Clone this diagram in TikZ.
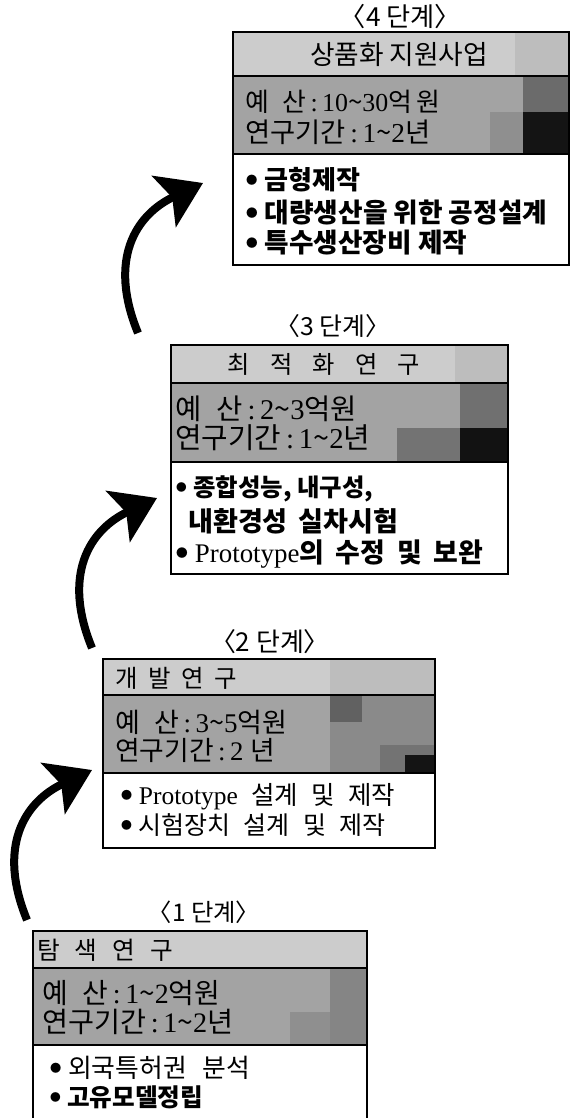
\documentclass[tikz,border=0pt]{standalone}
\usepackage{fontspec}
\usepackage{graphicx}
\setmainfont{Liberation Serif}
\newfontfamily\kr{Noto Sans CJK KR}
\newfontfamily\krlab{Noto Sans CJK KR}[RawFeature=+halt]
\usetikzlibrary{arrows.meta}
\newcommand\srf[1]{{\rmfamily #1}}
\newcommand\wv{{\kr\textasciitilde}}
\newcommand\bul{\raisebox{4.5pt}{\fontsize{10}{10}\selectfont ●}\hspace{6bp}}
\newcommand\fitw[2]{\resizebox{#1bp}{!}{#2}}
\definecolor{ttlfill}{gray}{0.80}
\definecolor{midfill}{gray}{0.64}
\tikzset{
  frame/.style={draw=black, line width=1.6bp, fill=none},
  sepline/.style={draw=black, line width=1.2bp},
  stagelab/.style={font=\krlab\fontsize{23}{27}\selectfont, inner sep=0pt},
  ttl/.style={font=\kr\fontsize{23}{27}\selectfont, inner sep=0pt},
  midtxt/.style={font=\kr\fontsize{23}{27}\selectfont, inner sep=0pt, anchor=west},
  itm/.style={font=\kr\fontsize{23}{27}\selectfont, inner sep=0pt, anchor=west},
  itmb/.style={font=\kr\bfseries\fontsize{23}{27}\selectfont, inner sep=0pt, anchor=west},
  arr/.style={line width=8bp, -{Stealth[length=43bp,width=56bp,inset=9bp]}},
}
\begin{document}
\begin{tikzpicture}[x=1bp,y=-1bp]
\useasboundingbox (0,0) rectangle (578,1118);
\clip (0,0) rectangle (578,1118);

% ---------------- Box 4 ----------------
\fill[ttlfill] (233,32) rectangle (569,76);
\fill[black!26] (515,32) rectangle (569,76);
\fill[midfill] (233,76) rectangle (569,154);
\fill[black!44] (490,112) rectangle (523,154);
\fill[black!58] (523,76) rectangle (569,112);
\fill[black!92] (523,112) rectangle (569,154);
\draw[sepline] (233,76) -- (569,76);
\draw[sepline] (233,154) -- (569,154);
\node[frame, minimum width=336bp, minimum height=233bp] (b4) at (401,148.5) {};
\node[stagelab] (l4) at (400.5,17) {\fitw{95}{〈4 단계〉}};
\node[ttl] (t4) at (399,54) {\fitw{178}{상품화 지원사업}};
\node[midtxt] (m4a) at (245,102) {\fitw{195}{예\hspace{12bp}산\srf{\,:\,10}\wv\srf{30}억\,원}};
\node[midtxt] (m4b) at (245,132) {\fitw{185}{연구기간\srf{\,:\,1}\wv\srf{2}년}};
\node[itmb] (i4a) at (246,180) {\fitw{114}{\bul 금형제작}};
\node[itmb] (i4b) at (246,213) {\fitw{301}{\bul 대량생산을 위한 공정설계}};
\node[itmb] (i4c) at (246,243) {\fitw{221}{\bul 특수생산장비 제작}};

% ---------------- Box 3 ----------------
\fill[ttlfill] (171,345) rectangle (508,383);
\fill[black!26] (455,345) rectangle (508,383);
\fill[midfill] (171,383) rectangle (508,462);
\fill[black!55] (397,428) rectangle (460,462);
\fill[black!56] (460,383) rectangle (508,428);
\fill[black!93] (460,428) rectangle (508,462);
\draw[sepline] (171,383) -- (508,383);
\draw[sepline] (171,462) -- (508,462);
\node[frame, minimum width=337bp, minimum height=229bp] (b3) at (339.5,459.5) {};
\node[stagelab] (l3) at (333,326) {\fitw{90}{〈3 단계〉}};
\node[ttl] (t3) at (324,364) {\fitw{192}{최\hspace{19bp}적\hspace{19bp}화\hspace{19bp}연\hspace{19bp}구}};
\node[midtxt] (m3a) at (175,409) {\fitw{182}{예\hspace{12bp}산\srf{\,:\,2}\wv\srf{3}억원}};
\node[midtxt] (m3b) at (175,438) {\fitw{195}{연구기간\srf{\,:\,1}\wv\srf{2}년}};
\node[itmb] (i3a) at (176,489) {\fitw{197}{\bul 종합성능, 내구성,}};
\node[itmb] (i3b) at (188,521) {\fitw{210}{내환경성\hspace{9bp}실차시험}};
\node[itmb] (i3c) at (176,554) {\fitw{307}{\bul{\mdseries\srf{Prototype}}의\hspace{10bp}수정\hspace{10bp}및\hspace{10bp}보완}};

% ---------------- Box 2 ----------------
\fill[ttlfill] (103,659) rectangle (435,695);
\fill[black!26] (330,659) rectangle (435,695);
\fill[midfill] (103,695) rectangle (435,773);
\fill[black!46] (330,695) rectangle (435,773);
\fill[black!62] (330,695) rectangle (362,722);
\fill[black!55] (380,745) rectangle (435,773);
\fill[black!92] (405,755) rectangle (435,773);
\draw[sepline] (103,695) -- (435,695);
\draw[sepline] (103,773) -- (435,773);
\node[frame, minimum width=332bp, minimum height=189bp] (b2) at (269,753.5) {};
\node[stagelab] (l2) at (270,642) {\fitw{94}{〈2 단계〉}};
\node[ttl, anchor=west] (t2) at (115,678) {\fitw{122}{개\hspace{10bp}발\hspace{10bp}연\hspace{10bp}구}};
\node[midtxt] (m2a) at (115,722) {\fitw{172}{예\hspace{12bp}산\srf{\,:\,3}\wv\srf{5}억원}};
\node[midtxt] (m2b) at (115,750) {\fitw{160}{연구기간\srf{\,:\,2}\hspace{6bp}년}};
\node[itm] (i2a) at (121,797) {\fitw{274}{\bul\srf{Prototype}\hspace{12bp}설계\hspace{12bp}및\hspace{12bp}제작}};
\node[itm] (i2b) at (121,825) {\fitw{264}{\bul 시험장치\hspace{12bp}설계\hspace{12bp}및\hspace{12bp}제작}};

% ---------------- Box 1 ----------------
\fill[ttlfill] (33,931) rectangle (367,968);
\fill[midfill] (33,968) rectangle (367,1045);
\fill[black!48] (330,968) rectangle (367,1045);
\fill[black!44] (290,1012) rectangle (330,1045);
\draw[sepline] (33,968) -- (367,968);
\draw[sepline] (33,1045) -- (367,1045);
\node[frame, minimum width=334bp, minimum height=210bp] (b1) at (200,1036) {};
\node[stagelab] (l1) at (204,912) {\fitw{88}{〈1 단계〉}};
\node[ttl, anchor=west] (t1) at (37,950) {\fitw{136}{탐\hspace{14bp}색\hspace{14bp}연\hspace{14bp}구}};
\node[midtxt] (m1a) at (42,993) {\fitw{178}{예\hspace{12bp}산\srf{\,:\,1}\wv\srf{2}억원}};
\node[midtxt] (m1b) at (42,1022) {\fitw{191}{연구기간\srf{\,:\,1}\wv\srf{2}년}};
\node[itm] (i1a) at (50,1068) {\fitw{200}{\bul 외국특허권\hspace{14bp}분석}};
\node[itmb] (i1b) at (50,1097) {\fitw{153}{\bul 고유모델정립}};

% ---------------- Arrows ----------------
\coordinate (a1t) at (27,920);  \coordinate (a1h) at (92,770);
\coordinate (a2t) at (92,648);  \coordinate (a2h) at (157,498);
\coordinate (a3t) at (138,333); \coordinate (a3h) at (203,183);
\draw[arr] (a1t) .. controls +(-30,-73) and +(-68,32) .. (a1h);
\draw[arr] (a2t) .. controls +(-30,-73) and +(-68,32) .. (a2h);
\draw[arr] (a3t) .. controls +(-30,-73) and +(-68,32) .. (a3h);
\end{tikzpicture}
\end{document}
